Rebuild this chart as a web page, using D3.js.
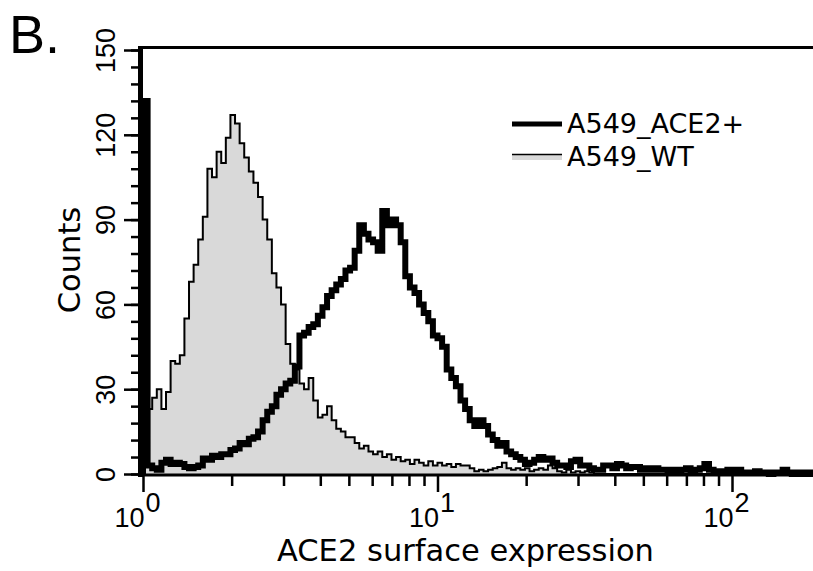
<!DOCTYPE html>
<html>
<head>
<meta charset="utf-8">
<script src="https://cdn.jsdelivr.net/npm/d3@7"></script>
<style>
  html, body { margin: 0; padding: 0; background: #fff; }
  svg { display: block; }
  .tick text { font-family: "Liberation Sans", Arial, sans-serif; }
</style>
</head>
<body>
<div id="chart"></div>
<script>
// histogram channels: 64 per decade, starting at 10^0
const binsPerDecade = 64;

// A549_WT counts per channel
const wtCounts = [
  67, 23, 27, 30, 23, 29, 40, 39, 42, 55,
  68, 74, 83, 91, 108, 105, 114, 110, 119, 127,
  124, 117, 112, 107, 103, 98, 90, 83, 71, 66,
  60, 46, 39, 37, 32, 30, 34, 26, 20, 21,
  24, 19, 16, 15, 13, 13, 11, 9, 10, 8,
  7, 8, 6, 7, 5, 6, 4.5, 5, 3.5, 5,
  4, 3, 4.5, 3, 4, 3, 3.5, 2.5, 3.5, 3,
  3, 2, 1, 1.5, 1, 1.5, 2, 2.5, 4, 2,
  1.5, 2, 1.5, 2, 1, 1.5, 2, 1.5, 3, 2,
  1, 0.5, 1.5, 0.5, 1, 0.5, 1, 0.5, 0, 0,
  0, 0, 0, 0, 0, 0, 0, 0, 0, 0,
  0, 0, 0, 0, 0, 0, 0, 0, 0, 0,
  0, 0, 0, 0, 0, 0, 0, 0, 0, 0,
  0, 0, 0, 0, 0, 0, 0, 0, 0, 0,
  0, 0, 0, 0, 0, 0
];

// A549_ACE2+ counts per channel
const ace2Counts = [
  132, 3, 2, 1.5, 4, 5, 3.5, 4, 3.5, 2.5,
  2, 2.5, 3, 5.5, 5, 6.5, 6, 7, 7, 8.5,
  9, 11, 10.5, 12.5, 13, 15, 19, 22, 24, 28,
  30, 32, 33, 38, 49, 50, 52, 53, 56, 59,
  63, 65, 67, 69, 72, 73, 79, 88, 85, 83,
  82, 79, 93, 88, 90, 88, 82, 70, 66, 64,
  60, 57, 54, 49, 48, 45, 37, 34, 31, 26,
  23, 19, 17, 19, 17, 14, 12, 10, 11, 8,
  7, 6, 5, 3.5, 4, 5, 6, 5, 5.5, 4,
  3, 3, 2.5, 4.5, 5, 3, 3, 2, 1.5, 1.5,
  3, 3, 2, 3.5, 3, 2, 2.5, 2.5, 1.5, 2,
  1.5, 2, 1.5, 1.5, 1, 1.5, 1, 1.5, 2, 1,
  1.5, 2, 3.5, 1.5, 1, 1, 0.5, 1.5, 1, 1.5,
  0.5, 0.5, 0.5, 1, 0.5, 0.5, 0, 0.5, 0.5, 1.5,
  0.5, 0, 0.5, 0, 0.5, 0
];

const yMajorTicks = [0, 30, 60, 90, 120, 150];
const yMinorTicks = d3.range(0, 151, 6);
const xMajorTicks = [1, 10, 100];
const xMajorExps = ["0", "1", "2"];
const xMinorTicks = [2, 3, 4, 5, 6, 7, 8, 9, 20, 30, 40, 50, 60, 70, 80, 90];

const seriesNames = ["A549_ACE2+", "A549_WT"];

const width = 813, height = 571;
const nBins = ace2Counts.length;
const xMax = Math.pow(10, nBins / binsPerDecade);

const svg = d3.select("#chart").append("svg")
    .attr("width", width)
    .attr("height", height);

const x = d3.scaleLog()
    .domain([1, xMax])
    .range([143, 143 + 294.5 * (nBins / binsPerDecade)]);

const y = d3.scaleLinear()
    .domain([0, 150])
    .range([474, 50]);

svg.append("defs").append("clipPath")
    .attr("id", "plotclip")
    .append("rect")
    .attr("x", 143).attr("y", 47)
    .attr("width", width - 143).attr("height", 433);

// step points for a histogram, edges on the log scale
function stepPoints(counts) {
    const pts = [{ e: 1, v: 0 }];
    counts.forEach((v, i) => pts.push({ e: Math.pow(10, i / binsPerDecade), v: v }));
    pts.push({ e: Math.pow(10, counts.length / binsPerDecade), v: counts[counts.length - 1] });
    return pts;
}

const plot = svg.append("g").attr("clip-path", "url(#plotclip)");

const wtArea = d3.area()
    .x(d => x(d.e))
    .y0(y(0))
    .y1(d => y(d.v))
    .curve(d3.curveStepAfter);

const stepLine = d3.line()
    .x(d => x(d.e))
    .y(d => y(d.v))
    .curve(d3.curveStepAfter);

const wtPts = stepPoints(wtCounts);
plot.append("path")
    .datum(wtPts)
    .attr("d", wtArea)
    .attr("fill", "#d9d9d9");

plot.append("path")
    .datum(wtPts)
    .attr("d", stepLine)
    .attr("fill", "none")
    .attr("stroke", "#000")
    .attr("stroke-width", 2);

plot.append("path")
    .datum(stepPoints(ace2Counts))
    .attr("d", stepLine)
    .attr("fill", "none")
    .attr("stroke", "#000")
    .attr("stroke-width", 6)
    .attr("stroke-linejoin", "miter");

// frame: top line and thick left spine
svg.append("line")
    .attr("x1", 138).attr("x2", width)
    .attr("y1", 47.5).attr("y2", 47.5)
    .attr("stroke", "#000").attr("stroke-width", 3);

svg.append("line")
    .attr("x1", 140.5).attr("x2", 140.5)
    .attr("y1", 46).attr("y2", 477)
    .attr("stroke", "#000").attr("stroke-width", 5);

// y axis
const yMinorAxis = svg.append("g")
    .attr("transform", "translate(138,0)")
    .call(d3.axisLeft(y).tickValues(yMinorTicks).tickSize(7).tickFormat(""));
yMinorAxis.select(".domain").remove();
yMinorAxis.selectAll(".tick line").attr("stroke-width", 2.5);

const yAxis = svg.append("g")
    .attr("transform", "translate(138,0)")
    .call(d3.axisLeft(y).tickValues(yMajorTicks).tickSize(14));
yAxis.select(".domain").remove();
yAxis.selectAll(".tick line").attr("stroke-width", 2.5);
yAxis.selectAll(".tick text")
    .attr("x", 0)
    .attr("dy", 0)
    .attr("text-anchor", "middle")
    .attr("transform", "translate(-23,0) rotate(-90)")
    .style("font-size", "27px")
    .attr("fill", "#000");

// x axis
svg.append("line")
    .attr("x1", 138).attr("x2", width)
    .attr("y1", 475).attr("y2", 475)
    .attr("stroke", "#000").attr("stroke-width", 3);

const xMinorAxis = svg.append("g")
    .attr("transform", "translate(0,475)")
    .call(d3.axisBottom(x).tickValues(xMinorTicks).tickSize(11).tickFormat(""));
xMinorAxis.select(".domain").remove();
xMinorAxis.selectAll(".tick line").attr("stroke-width", 2.5);

const xAxis = svg.append("g")
    .attr("transform", "translate(0,475)")
    .call(d3.axisBottom(x).tickValues(xMajorTicks).tickSize(17).tickFormat(""));
xAxis.select(".domain").remove();
xAxis.selectAll(".tick line").attr("stroke-width", 2.5);

xAxis.selectAll(".tick").each(function (d, i) {
    const t = d3.select(this);
    t.append("text")
        .attr("x", 1).attr("y", 52)
        .attr("text-anchor", "end")
        .attr("fill", "#000")
        .style("font-size", "27px")
        .text("10");
    t.append("text")
        .attr("x", 2).attr("y", 37)
        .attr("text-anchor", "start")
        .attr("fill", "#000")
        .style("font-size", "27px")
        .text(xMajorExps[i]);
});

// axis titles
svg.append("text")
    .attr("x", 277).attr("y", 561)
    .style("font-family", "'DejaVu Sans', Verdana, sans-serif")
    .style("font-size", "30.5px")
    .text("ACE2 surface expression");

svg.append("text")
    .attr("transform", "translate(80,260) rotate(-90)")
    .attr("text-anchor", "middle")
    .style("font-family", "'DejaVu Sans', Verdana, sans-serif")
    .style("font-size", "30.5px")
    .text("Counts");

// panel letter
svg.append("text")
    .attr("x", 9).attr("y", 53)
    .style("font-family", "'Liberation Sans', Arial, sans-serif")
    .style("font-size", "54px")
    .text("B.");

// legend
const legend = svg.append("g");
legend.append("line")
    .attr("x1", 512).attr("x2", 562)
    .attr("y1", 124).attr("y2", 124)
    .attr("stroke", "#000").attr("stroke-width", 5);
legend.append("rect")
    .attr("x", 512).attr("y", 154)
    .attr("width", 50).attr("height", 6)
    .attr("fill", "#d9d9d9");
legend.append("line")
    .attr("x1", 512).attr("x2", 562)
    .attr("y1", 154.5).attr("y2", 154.5)
    .attr("stroke", "#000").attr("stroke-width", 1.5);
legend.selectAll("text.leg")
    .data(seriesNames)
    .enter()
    .append("text")
    .attr("class", "leg")
    .attr("x", 567)
    .attr("y", (d, i) => 133 + i * 33)
    .style("font-family", "'DejaVu Sans', Verdana, sans-serif")
    .style("font-size", "27px")
    .text(d => d);
</script>
</body>
</html>
